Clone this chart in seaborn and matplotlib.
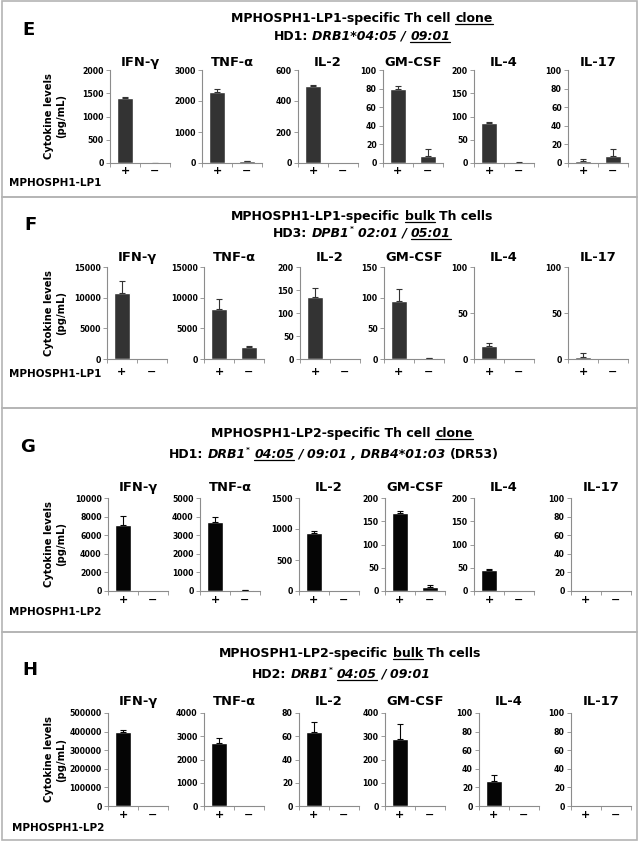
#!/usr/bin/env python3
"""
plot.py - cytokine release of MPHOSPH1-LP1/LP2 specific Th cells (panels E-H)
"""
import numpy as np
import pandas as pd
import matplotlib
matplotlib.use("Agg")
import matplotlib.pyplot as plt
import seaborn as sns
from matplotlib.lines import Line2D
from matplotlib.patches import Rectangle

sns.set_style("ticks")
plt.rcParams["font.family"] = ["DejaVu Sans"]
plt.rcParams["text.color"] = "black"
plt.rcParams["xtick.labelcolor"] = "black"
plt.rcParams["ytick.labelcolor"] = "black"

# ---- data -----------------------------------------------------------------
cytokines = ["IFN-γ", "TNF-α", "IL-2", "GM-CSF", "IL-4", "IL-17"]
stim_labels = ["+", "−"]

# E: LP1 clone (HD1)
e_pos = [1400, 2280, 500, 80, 85, 2]
e_pos_err = [30, 110, 3, 2.5, 3, 2]
e_neg = [5, 50, 2, 7, 1, 7]
e_neg_err = [2, 20, 0, 8, 0.5, 8]
e_ymax = [2000, 3000, 600, 100, 200, 100]
e_ystep = [500, 1000, 200, 20, 50, 20]

# F: LP1 bulk (HD3)
f_pos = [10700, 8100, 135, 94, 14, 2]
f_pos_err = [2000, 1700, 20, 20, 3, 4]
f_neg = [0, 1900, 0, 1, 0.5, 0]
f_neg_err = [0, 300, 0, 0.5, 0, 0]
f_ymax = [15000, 15000, 200, 150, 100, 100]
f_ystep = [5000, 5000, 50, 50, 50, 50]

# G: LP2 clone (HD1)
g_pos = [7100, 3720, 930, 167, 46, 0]
g_pos_err = [1000, 250, 30, 5, 1, 0]
g_neg = [0, 50, 0, 9, 0.5, 0]
g_neg_err = [0, 10, 0, 4, 0, 0]
g_ymax = [10000, 5000, 1500, 200, 200, 100]
g_ystep = [2000, 1000, 500, 50, 50, 20]

# H: LP2 bulk (HD2)
h_pos = [397000, 2700, 64, 288, 27, 0]
h_pos_err = [10000, 220, 8, 65, 6, 0]
h_neg = [0, 5, 0, 1, 0, 0]
h_neg_err = [0, 0, 0, 0, 0, 0]
h_ymax = [500000, 4000, 80, 400, 100, 100]
h_ystep = [100000, 1000, 20, 100, 20, 20]

# ---- figure helpers (pixel layout) ----------------------------------------
W, H = 642, 843
fig = plt.figure(figsize=(W / 100, H / 100), dpi=100)
renderer = fig.canvas.get_renderer()


def fx(px):
    return px / W


def fy(py):
    return 1 - py / H


def put(x, yc, text, size, ha="center", **kw):
    # place text so that the cap height is centred on yc
    em = size * 100 / 72
    return fig.text(fx(x), fy(yc + 0.365 * em), text, fontsize=size,
                    ha=ha, va="baseline", fontweight="bold", **kw)


def rich_line(cx, cy, parts, size=9):
    em = size * 100 / 72
    sp = 0.348 * em
    base = cy + 0.365 * em
    items = []
    for text, style, under, gap in parts:
        sup = "s" in style
        fs = size * 0.6 if sup else size
        yb = base - 0.45 * em if sup else base
        t = fig.text(0, fy(yb), text, fontsize=fs, fontweight="bold",
                     fontstyle="italic" if "i" in style else "normal",
                     ha="left", va="baseline")
        w = t.get_window_extent(renderer).width
        items.append((t, w, under, gap * sp))
    total = sum(w + g for _, w, _, g in items) - items[-1][3]
    x = cx - total / 2
    for t, w, under, g in items:
        t.set_x(fx(x))
        if under:
            fig.add_artist(Line2D([fx(x), fx(x + w)], [fy(base + 2.2)] * 2,
                                  color="black", lw=0.9))
        x += w + g


def draw_panel(box, letter, lines, layout, pos, pos_err, neg, neg_err,
               ymax, ystep, bar_color, peptide):
    y0, y1 = box
    fig.add_artist(Rectangle((fx(2), fy(y1)), fx(635), (y1 - y0) / H,
                             transform=fig.transFigure, fill=False,
                             edgecolor="#b4b4b4", lw=1.2))
    put(layout["letter"][0], layout["letter"][1], letter, 13)
    for (cx, cy), parts in zip(layout["lines"], lines):
        rich_line(cx, cy, parts)

    top, bottom = layout["top"], layout["bottom"]
    for i, left in enumerate(layout["lefts"]):
        ax = fig.add_axes([fx(left), fy(bottom), 60 / W, (bottom - top) / H])
        vals = [pos[i], neg[i]]
        errs = [pos_err[i], neg_err[i]]
        df = pd.DataFrame({"stim": stim_labels, "value": vals})
        sns.barplot(data=df, x="stim", y="value", order=stim_labels,
                    color=bar_color, saturation=1, width=0.55,
                    errorbar=None, ax=ax)
        for j in range(2):
            if errs[j] > 0:
                ax.errorbar(j, vals[j], yerr=[[0], [errs[j]]], fmt="none",
                            ecolor=bar_color, elinewidth=0.8, capsize=2.5,
                            capthick=0.8)
        ax.set_xlim(-0.5, 1.5)
        ax.set_ylim(0, ymax[i])
        ticks = np.arange(0, ymax[i] + 1, ystep[i])
        ax.set_yticks(ticks)
        ax.set_yticklabels([str(int(v)) for v in ticks], fontweight="bold")
        ax.set_xticks([0, 1])
        ax.set_xticklabels(stim_labels, fontweight="bold")
        ax.set_xticks([-0.5, 0.5, 1.5], minor=True)
        ax.set_xlabel("")
        ax.set_ylabel("")
        sns.despine(ax=ax)
        for s in ("left", "bottom"):
            ax.spines[s].set_color("#8c8c8c")
            ax.spines[s].set_linewidth(0.8)
        ax.tick_params(axis="y", length=3, width=0.6, color="#8c8c8c",
                       labelsize=5.6, pad=1.5, labelcolor="black")
        ax.tick_params(axis="x", which="major", length=0, labelsize=8,
                       pad=layout["xpad"], labelcolor="black")
        ax.tick_params(axis="x", which="minor", length=3, width=0.6,
                       color="#8c8c8c")
        put(left + 30, layout["sub_y"], cytokines[i], 9.4)

    fig.text(fx(55), fy((top + bottom) / 2), "Cytokine levels\n(pg/mL)",
             rotation=90, ha="center", va="center", fontsize=7.2,
             fontweight="bold", linespacing=1.25)
    put(layout["pep"][0], layout["pep"][1], peptide, 7.5, ha="left")


# ---- panels ---------------------------------------------------------------
draw_panel(
    (1, 197), "E",
    [[("MPHOSPH1-LP1-specific Th cell", "b", False, 1),
      ("clone", "b", True, 0)],
     [("HD1:", "b", False, 1), ("DRB1*04:05 /", "bi", False, 1),
      ("09:01", "bi", True, 0)]],
    dict(letter=(29, 28), lines=[(362, 17), (362, 35)], top=70, bottom=163,
         lefts=[110, 202, 298, 383, 474, 568], sub_y=61, xpad=2,
         pep=(9, 182)),
    e_pos, e_pos_err, e_neg, e_neg_err, e_ymax, e_ystep, "#333333",
    "MPHOSPH1-LP1")

draw_panel(
    (197, 408), "F",
    [[("MPHOSPH1-LP1-specific", "b", False, 1), ("bulk", "b", True, 1),
      ("Th cells", "b", False, 0)],
     [("HD3:", "b", False, 1), ("DPB1", "bi", False, 0),
      ("*", "bis", False, 1), ("02:01 /", "bi", False, 1),
      ("05:01", "bi", True, 0)]],
    dict(letter=(30, 223), lines=[(362, 215), (362, 232)], top=267,
         bottom=359, lefts=[107, 204, 300, 384, 474, 568], sub_y=256,
         xpad=6, pep=(9, 373)),
    f_pos, f_pos_err, f_neg, f_neg_err, f_ymax, f_ystep, "#333333",
    "MPHOSPH1-LP1")

draw_panel(
    (408, 632), "G",
    [[("MPHOSPH1-LP2-specific Th cell", "b", False, 1),
      ("clone", "b", True, 0)],
     [("HD1:", "b", False, 1), ("DRB1", "bi", False, 0),
      ("*", "bis", False, 1), ("04:05", "bi", True, 1),
      ("/ 09:01 , DRB4*01:03", "bi", False, 1), ("(DR53)", "b", False, 0)]],
    dict(letter=(28, 445), lines=[(342, 432), (334, 453)], top=498,
         bottom=591, lefts=[108, 200, 299, 385, 474, 571], sub_y=486,
         xpad=3, pep=(9, 611)),
    g_pos, g_pos_err, g_neg, g_neg_err, g_ymax, g_ystep, "#050505",
    "MPHOSPH1-LP2")

draw_panel(
    (632, 840), "H",
    [[("MPHOSPH1-LP2-specific", "b", False, 1), ("bulk", "b", True, 1),
      ("Th cells", "b", False, 0)],
     [("HD2:", "b", False, 1), ("DRB1", "bi", False, 0),
      ("*", "bis", False, 1), ("04:05", "bi", True, 1),
      ("/ 09:01", "bi", False, 0)]],
    dict(letter=(30, 668), lines=[(350, 652), (341, 673)], top=713,
         bottom=806, lefts=[108, 204, 299, 385, 479, 571], sub_y=700,
         xpad=3, pep=(12, 827)),
    h_pos, h_pos_err, h_neg, h_neg_err, h_ymax, h_ystep, "#050505",
    "MPHOSPH1-LP2")

fig.savefig("out.png", dpi=100, facecolor="white")
